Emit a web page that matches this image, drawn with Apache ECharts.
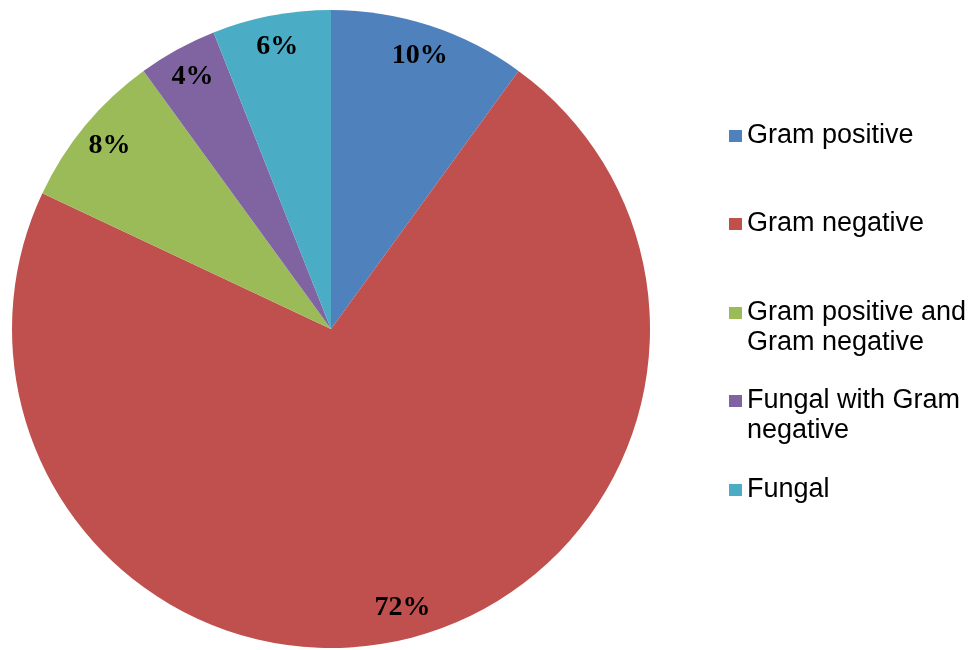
<!DOCTYPE html>
<html>
<head>
<meta charset="utf-8">
<script src="https://cdn.jsdelivr.net/npm/echarts@6/dist/echarts.min.js"></script>
<style>html,body{margin:0;padding:0;background:#fff}#c{width:974px;height:650px}</style>
</head>
<body>
<div id="c"></div>
<script>
const categories = ['Gram positive', 'Gram negative', 'Gram positive and Gram negative', 'Fungal with Gram negative', 'Fungal'];
const legendLabels = ['Gram positive', 'Gram negative', '\nGram positive and\nGram negative', '\nFungal with Gram\nnegative', 'Fungal'];
const values = [10, 72, 8, 4, 6];
const colors = ['#4F81BD', '#C0504D', '#9BBB59', '#8064A2', '#4BACC6'];

const data = categories.map((n, i) => ({ name: n, value: values[i], itemStyle: { color: colors[i] } }));
const legendTops = [116, 204, 263, 351, 470];

const chart = echarts.init(document.getElementById('c'), null, { renderer: 'canvas' });
chart.setOption({
  animation: false,
  backgroundColor: '#ffffff',
  legend: categories.map((n, i) => ({
    data: [n],
    orient: 'vertical',
    left: 724,
    top: legendTops[i],
    itemWidth: 13,
    itemHeight: 12,
    icon: 'rect',
    selectedMode: false,
    formatter: () => legendLabels[i],
    textStyle: { fontFamily: 'Liberation Sans, Arial, sans-serif', fontSize: 27, color: '#000', lineHeight: 30 }
  })),
  series: [
    {
      type: 'pie',
      center: [331, 329],
      radius: [0, 319],
      startAngle: 90,
      clockwise: true,
      label: { show: false },
      labelLine: { show: false },
      emphasis: { disabled: true },
      itemStyle: { borderWidth: 0 },
      data: data
    },
    {
      type: 'pie',
      center: [331, 329],
      radius: [250, 319],
      startAngle: 90,
      clockwise: true,
      silent: true,
      emphasis: { disabled: true },
      itemStyle: { color: 'rgba(0,0,0,0)', borderWidth: 0 },
      label: {
        show: true,
        position: 'inside',
        formatter: '{c}%',
        fontFamily: 'Liberation Serif, Times New Roman, serif',
        fontWeight: 'bold',
        fontSize: 28,
        color: '#000'
      },
      labelLine: { show: false },
      data: categories.map((n, i) => ({ name: n, value: values[i] }))
    }
  ]
});
</script>
</body>
</html>
